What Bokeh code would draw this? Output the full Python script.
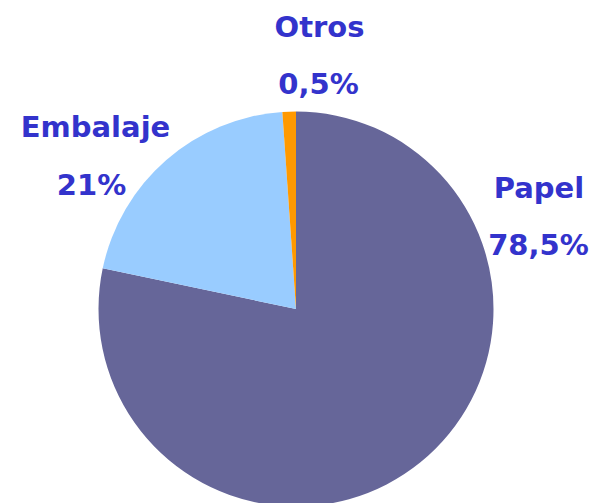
import math
from bokeh.plotting import figure
from bokeh.models import ColumnDataSource, Range1d
from bokeh.core.properties import value
from bokeh.embed import file_html
from bokeh.resources import INLINE

# Data (shares as drawn in the picture, labels as printed)
categories = ["Papel", "Embalaje", "Otros"]
shares = [78.3, 20.6, 1.1]
pct_labels = ["78,5%", "21%", "0,5%"]
colors = ["#666699", "#99CCFF", "#FF9900"]

W, H = 596, 503
p = figure(width=W, height=H, output_backend="svg", toolbar_location=None,
           x_range=Range1d(0, W), y_range=Range1d(0, H), min_border=0)
p.axis.visible = False
p.grid.visible = False
p.outline_line_color = None
p.background_fill_color = "white"

def sx(x):
    return x

def sy(y):
    return H - y

cx, cy, r = sx(295.5), sy(308.5), 197.5

total = sum(shares)
starts, ends = [], []
cum = 0.0
for s in shares:
    a0 = math.radians(90 - (cum + s) / total * 360)
    a1 = math.radians(90 - cum / total * 360)
    starts.append(a0)
    ends.append(a1)
    cum += s

src = ColumnDataSource(dict(cat=categories, start=starts, end=ends, color=colors))
p.wedge(x=cx, y=cy, radius=r, start_angle="start", end_angle="end",
        fill_color="color", line_color=None, source=src)

# label positions (screen px) : name and pct
name_pos = [(538.5, 187), (95, 126), (319, 26)]
pct_pos = [(538, 244), (91, 184), (318, 83)]

lx = [sx(a) for a, b in name_pos] + [sx(a) for a, b in pct_pos]
ly = [sy(b) for a, b in name_pos] + [sy(b) for a, b in pct_pos]
lt = categories + pct_labels
tsrc = ColumnDataSource(dict(x=lx, y=ly, t=lt))
p.text(x="x", y="y", text="t", source=tsrc, text_align="center",
       text_baseline="alphabetic", text_color="#3333CC",
       text_font=value("DejaVu Sans"), text_font_style="bold",
       text_font_size="29px")

open("out.html", "w").write(file_html(p, INLINE))
